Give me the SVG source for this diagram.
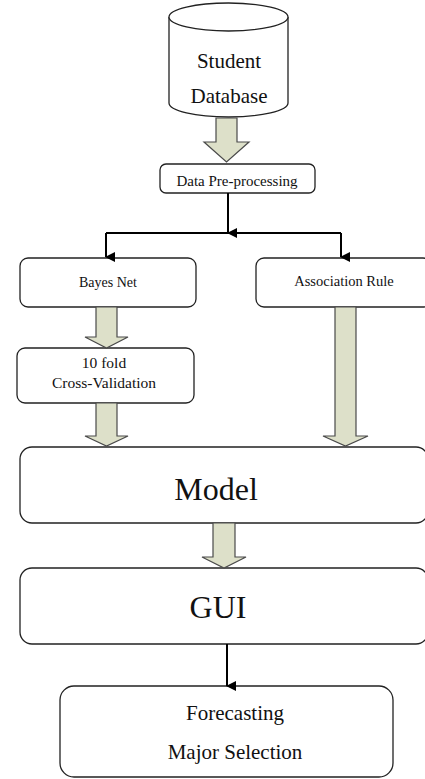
<svg xmlns="http://www.w3.org/2000/svg" width="425" height="779" viewBox="0 0 425 779">
<style>
.box{fill:#fff;stroke:#222;stroke-width:1.3}
.t{font-family:"Liberation Serif","Times New Roman",serif;fill:#111;text-anchor:middle}
.blk{fill:#dde0c9;stroke:#4a4a4a;stroke-width:1.2;stroke-linejoin:miter}
.con{fill:none;stroke:#000;stroke-width:2}
</style>
<defs>
<marker id="ah" markerWidth="10" markerHeight="10" refX="5" refY="9" orient="auto" markerUnits="userSpaceOnUse" viewBox="0 0 10 10">
<path d="M0,0 L10,0 L5,10 Z" fill="#000"/>
</marker>
</defs>
<rect width="425" height="779" fill="#fff"/>

<g id="student-database">
<path class="box" d="M169,17 A59.5,14 0 0,1 288,17 L288,103 A59.5,14 0 0,1 169,103 Z"/>
<path class="box" d="M169,17 A59.5,14 0 0,0 288,17"/>
<text class="t" x="229" y="68" font-size="21">Student</text>
<text class="t" x="229" y="103" font-size="21">Database</text>
</g>

<g id="data-preprocessing">
<rect class="box" x="160" y="164" width="155" height="29" rx="6"/>
<text class="t" x="237" y="186" font-size="15">Data Pre-processing</text>
</g>

<g id="bayes-net">
<rect class="box" x="20" y="258" width="176" height="49" rx="8"/>
<text class="t" x="108" y="287" font-size="14">Bayes Net</text>
</g>

<g id="association-rule">
<rect class="box" x="256" y="258" width="175" height="49" rx="8"/>
<text class="t" x="344" y="286" font-size="14.5">Association Rule</text>
</g>

<g id="cross-validation">
<rect class="box" x="17" y="348" width="177" height="55" rx="8"/>
<text class="t" x="104" y="368" font-size="15.5">10 fold</text>
<text class="t" x="104" y="388" font-size="15.5">Cross-Validation</text>
</g>

<g id="model">
<rect class="box" x="20" y="447" width="408" height="76" rx="12"/>
<text class="t" x="216" y="500" font-size="32">Model</text>
</g>

<g id="gui">
<rect class="box" x="20" y="568" width="408" height="76" rx="12"/>
<text class="t" x="218" y="618" font-size="32">GUI</text>
</g>

<g id="forecasting">
<rect class="box" x="60" y="686" width="333" height="91" rx="14"/>
<text class="t" x="235" y="720" font-size="21">Forecasting</text>
<text class="t" x="235" y="759" font-size="21">Major Selection</text>
</g>

<g id="connectors">
<polygon class="blk" points="216,118 237,118 237,142 249,142 226.5,162 204,142 216,142"/>
<polygon class="blk" points="96,307 117,307 117,337 128,337 106.5,348 85,337 96,337"/>
<polygon class="blk" points="96,403 117,403 117,436 128,436 106.5,446 85,436 96,436"/>
<polygon class="blk" points="335,307 356,307 356,436 368,436 345.5,446 323,436 335,436"/>
<polygon class="blk" points="213,523 235,523 235,557 246,557 224,568 202,557 213,557"/>
<path class="con" d="M228,193 V233" marker-end="url(#ah)"/>
<path class="con" d="M106,233 H341"/>
<path class="con" d="M106,233 V257" marker-end="url(#ah)"/>
<path class="con" d="M341,233 V257" marker-end="url(#ah)"/>
<path class="con" d="M227,644 V686" marker-end="url(#ah)"/>
</g>
</svg>
